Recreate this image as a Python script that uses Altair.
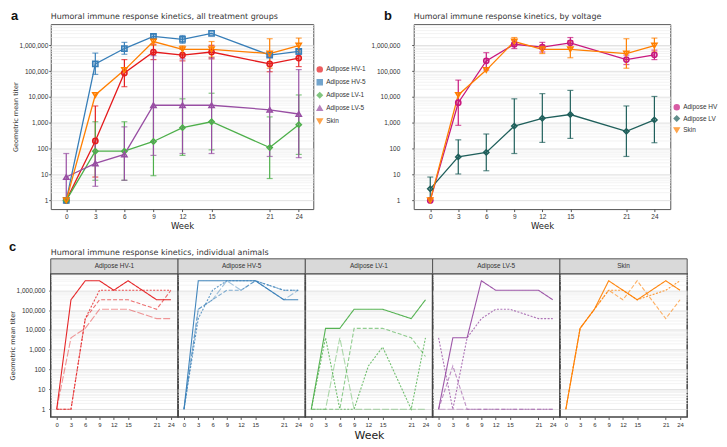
import altair as alt
import pandas as pd

weeks = [0, 3, 6, 9, 12, 15, 21, 24]

# ---------- panel a ----------
groups_a = ["Adipose HV-1", "Adipose HV-5", "Adipose LV-1", "Adipose LV-5", "Skin"]
colors_a = ["#e41a1c", "#377eb8", "#4daf4a", "#984ea3", "#ff7f00"]
shapes_a = ["circle", "square", "diamond", "triangle-up", "triangle-down"]

hv1_gm = [1, 200, 85000, 550000, 420000, 550000, 190000, 320000]
hv1_lo = [1, 8, 25000, 280000, 250000, 300000, 95000, 150000]
hv1_hi = [1, 4500, 280000, 1100000, 700000, 1000000, 380000, 680000]
hv5_gm = [1, 190000, 750000, 2200000, 1700000, 2900000, 420000, 580000]
hv5_lo = [1, 75000, 450000, 1800000, 1200000, 2900000, 350000, 450000]
hv5_hi = [1, 500000, 1300000, 2700000, 2400000, 2900000, 500000, 700000]
lv1_gm = [1, 80, 80, 190, 650, 1100, 110, 850]
lv1_lo = [1, 6, 6, 9, 55, 90, 7, 60]
lv1_hi = [1, 1100, 1100, 4000, 8500, 14000, 1700, 12000]
lv5_gm = [8, 27, 60, 4800, 4800, 4800, 3200, 2200]
lv5_lo = [1, 3.5, 6, 55, 65, 65, 50, 45]
lv5_hi = [65, 200, 700, 400000, 300000, 330000, 200000, 115000]
skin_gm = [1, 12000, 110000, 1400000, 700000, 700000, 480000, 980000]
skin_lo = [1, 12000, 110000, 1000000, 450000, 350000, 130000, 550000]
skin_hi = [1, 12000, 110000, 1800000, 950000, 1400000, 1800000, 1900000]

# ---------- panel b ----------
groups_b = ["Adipose HV", "Adipose LV", "Skin"]
colors_b = ["#c8177e", "#1f5f5b", "#ff7f00"]
shapes_b = ["circle", "diamond", "triangle-down"]
hv_gm = [1, 6000, 250000, 1100000, 850000, 1250000, 280000, 430000]
hv_lo = [1, 800, 110000, 750000, 550000, 800000, 180000, 280000]
hv_hi = [1, 45000, 520000, 1600000, 1300000, 2000000, 420000, 650000]
lv_gm = [2.8, 48, 72, 750, 1500, 2100, 470, 1300]
lv_lo = [1, 10.5, 14, 65, 175, 250, 50, 170]
lv_hi = [8, 220, 370, 8500, 13500, 18000, 4500, 10500]
skinb_gm = [1, 12000, 110000, 1400000, 700000, 700000, 480000, 980000]
skinb_lo = [1, 12000, 110000, 1000000, 480000, 330000, 130000, 550000]
skinb_hi = [1, 12000, 110000, 2000000, 1000000, 1500000, 1800000, 1900000]

# ---------- panel c (individual animals) ----------
indiv = {
    "Adipose HV-1": [
        [1, 330000, 3000000, 3000000, 1000000, 3000000, 330000, 330000],
        [1, 1, 37000, 1000000, 1000000, 1000000, 1000000, 1000000],
        [1, 1, 37000, 330000, 330000, 330000, 110000, 1000000],
        [1, 4000, 12000, 110000, 110000, 110000, 37000, 37000],
    ],
    "Adipose HV-5": [
        [1, 3000000, 3000000, 3000000, 3000000, 3000000, 330000, 330000],
        [1, 37000, 1000000, 3000000, 3000000, 3000000, 1000000, 1000000],
        [1, 110000, 330000, 1000000, 1000000, 3000000, 1000000, 1000000],
        [1, 110000, 330000, 3000000, 1000000, 3000000, 330000, 1000000],
    ],
    "Adipose LV-1": [
        [1, 12000, 12000, 110000, 110000, 110000, 37000, 330000],
        [1, 4000, 1, 1, 152, 1370, 1, 4000],
        [1, 1, 1, 12000, 12000, 12000, 4000, 457],
        [1, 1, 4000, 1, 1, 1, 1, 1],
    ],
    "Adipose LV-5": [
        [1, 4000, 4000, 3000000, 1000000, 1000000, 1000000, 330000],
        [4000, 1, 4000, 37000, 110000, 110000, 37000, 37000],
        [1, 152, 1, 1, 1, 1, 1, 1],
        [1, 1, 1, 1, 1, 1, 1, 1],
    ],
    "Skin": [
        [1, 12000, 110000, 3000000, 1000000, 330000, 3000000, 1000000],
        [1, 12000, 110000, 1000000, 1000000, 330000, 1000000, 3000000],
        [1, 12000, 110000, 1000000, 330000, 3000000, 37000, 330000],
    ],
}
animal_ids = [1, 2, 3, 4]
animal_dash = [[1, 0], [2, 1.5], [4, 2], [7, 2]]
animal_opacity = [0.95, 0.45, 0.8, 0.7]

# ---------- helpers ----------
yvals = [m * 10 ** d for d in range(7) for m in range(1, 10) if m * 10 ** d <= 6000000]
MAJOR = "abs(log(datum.value)/LN10 - round(log(datum.value)/LN10)) < 0.001"
FONT = "Liberation Sans"
TFONT = "DejaVu Sans"


def yaxis(show=True, title=None, label_pad=1):
    return alt.Axis(
        values=yvals,
        labelExpr=f"{MAJOR} ? format(datum.value, ',') : ''",
        labelOverlap=False,
        grid=True,
        gridColor={"condition": {"test": MAJOR, "value": "#dadada"}, "value": "#f0f0f0"},
        gridWidth=0.8,
        ticks=show,
        tickOpacity={"condition": {"test": MAJOR, "value": 1}, "value": 0},
        tickColor="#555",
        tickSize=2,
        domain=False,
        labels=show,
        labelPadding=label_pad,
        title=title,
        titlePadding=1,
    )


def xaxis(title=None, fs=8.5, label_size=6.5):
    return alt.Axis(
        values=weeks, grid=False, domain=False, tickSize=2.5, tickColor="#555",
        labelPadding=2, labelFontSize=label_size, labelFlush=False, title=title,
        titlePadding=2, titleFontSize=fs, titleColor="#222",
    )


def frame_rows(groups, gms, los, his):
    rows = []
    for g, gm, lo, hi in zip(groups, gms, los, his):
        for w, m, l, h in zip(weeks, gm, lo, hi):
            rows.append({"group": g, "week": w, "gm": m, "lo": l, "hi": h})
    return pd.DataFrame(rows)


def letter(ch, x, y):
    return alt.Chart(pd.DataFrame({"t": [ch]})).mark_text(
        font=FONT, fontSize=13, fontWeight="bold", align="left", baseline="top", color="#111"
    ).encode(text="t:N", x=alt.value(x), y=alt.value(y))


def summary_panel(df, groups, colors, shapes, xdom, w, h, title, ch, ylab_pad, ytitle, legx, legy, row_pad):
    ys = alt.Scale(type="log", domain=[0.46, 6.6e6], nice=False)
    xs = alt.Scale(domain=xdom, nice=False, zero=False)
    X = alt.X("week:Q", scale=xs, axis=xaxis("Week"))
    ya = yaxis(True, ytitle, ylab_pad)
    Y = alt.Y("gm:Q", scale=ys, axis=ya)
    cs = alt.Scale(domain=groups, range=colors)
    ss = alt.Scale(domain=groups, range=shapes)
    leg = alt.Legend(title=None, orient="none", legendX=legx, legendY=legy, labelFont=FONT,
                     labelFontSize=6.5, labelColor="#333", symbolSize=26, symbolStrokeWidth=1.4,
                     rowPadding=row_pad, labelOffset=3, labelLimit=60)
    C = alt.Color("group:N", scale=cs, legend=leg)
    S = alt.Shape("group:N", scale=ss, legend=leg)
    base = alt.Chart(df)
    err = base.transform_filter("datum.hi > datum.lo * 1.05").mark_errorbar(
        ticks={"size": 6}, thickness=1.2
    ).encode(x=X, y=alt.Y("lo:Q", scale=ys, axis=ya), y2="hi:Q", color=C)
    line = base.mark_line(strokeWidth=1.3).encode(x=X, y=Y, color=C)
    fill = base.mark_point(filled=True, size=28, opacity=0.35).encode(x=X, y=Y, color=C, shape=S)
    pts = base.mark_point(filled=False, size=28, strokeWidth=1.5, opacity=1).encode(
        x=X, y=Y, color=C, shape=S)
    return alt.layer(err, line, fill, pts, letter(ch, -40 if ch == "a" else -30, -14)).properties(
        width=w, height=h,
        title=alt.TitleParams(title, anchor="start", frame="group", font=TFONT, fontSize=8,
                              fontWeight="normal", color="#333", offset=-11),
        view=alt.ViewBackground(stroke="#555", strokeWidth=1),
    )


df_a = frame_rows(groups_a, [hv1_gm, hv5_gm, lv1_gm, lv5_gm, skin_gm],
                  [hv1_lo, hv5_lo, lv1_lo, lv5_lo, skin_lo],
                  [hv1_hi, hv5_hi, lv1_hi, lv5_hi, skin_hi])
df_b = frame_rows(groups_b, [hv_gm, lv_gm, skinb_gm], [hv_lo, lv_lo, skinb_lo], [hv_hi, lv_hi, skinb_hi])

pa = summary_panel(df_a, groups_a, colors_a, shapes_a, [-1.6, 25.5], 264, 186,
                   "Humoral immune response kinetics, all treatment groups", "a", 1,
                   "Geometric mean titer", 267, 42, 2)
pb = summary_panel(df_b, groups_b, colors_b, shapes_b, [-1.77, 25.7], 258, 186,
                   "Humoral immune response kinetics, by voltage", "b", 12, None, 261, 80, 0.5)

top = alt.hconcat(pa, pb, spacing=3).resolve_scale(color="independent", shape="independent")

# ---------- bottom row ----------
W, H = 128, 144
ys_c = alt.Scale(type="log", domain=[0.41, 6.8e6], nice=False)
xs_c = alt.Scale(domain=[-1.25, 25.5], nice=False, zero=False)
panels = []
for i, g in enumerate(groups_a):
    rows = []
    for a_id, series in zip(animal_ids, indiv[g]):
        for w_, v in zip(weeks, series):
            rows.append({"animal": a_id, "week": w_, "titer": v})
    df = pd.DataFrame(rows)
    first = i == 0
    ax_y = yaxis(first, "Geometric mean titer" if first else None, 4)
    ax_x = xaxis("Week" if i == 2 else None, fs=11, label_size=6)
    lines = alt.Chart(df).mark_line(strokeWidth=1.1, color=colors_a[i]).encode(
        x=alt.X("week:Q", scale=xs_c, axis=ax_x),
        y=alt.Y("titer:Q", scale=ys_c, axis=ax_y),
        strokeDash=alt.StrokeDash("animal:O", scale=alt.Scale(domain=animal_ids, range=animal_dash), legend=None),
        opacity=alt.Opacity("animal:O", scale=alt.Scale(domain=animal_ids, range=animal_opacity), legend=None),
    )
    sdf = pd.DataFrame({"label": [g]})
    strip = alt.Chart(sdf).mark_rect(fill="#d9d9d9", stroke="#555", strokeWidth=1).encode(
        x=alt.value(0), x2=alt.value(W), y=alt.value(-15), y2=alt.value(0))
    stext = alt.Chart(sdf).mark_text(font=FONT, fontSize=6.5, color="#333").encode(
        text="label:N", x=alt.value(W / 2), y=alt.value(-7.5))
    layers = [strip, stext, lines]
    props = dict(width=W, height=H, view=alt.ViewBackground(stroke="#444", strokeWidth=1.5))
    if first:
        layers.append(letter("c", -42, -33))
        props["title"] = alt.TitleParams(
            "Humoral immune response kinetics, individual animals", anchor="start", frame="group",
            font=TFONT, fontSize=8, fontWeight="normal", color="#333", offset=-16)
    panels.append(alt.layer(*layers).properties(**props))

bottom = alt.hconcat(*panels, spacing=0, bounds="flush")

chart = alt.vconcat(top, bottom, spacing=9).properties(padding=0, background="white").configure_axis(
    labelFont=FONT, labelFontSize=6.5, labelColor="#333", titleFont=TFONT, titleFontSize=6.5,
    titleColor="#333", titleFontWeight="normal"
).configure_view(stroke="#555")

chart.save("out.html", embed_options={"renderer": "svg", "actions": False})
